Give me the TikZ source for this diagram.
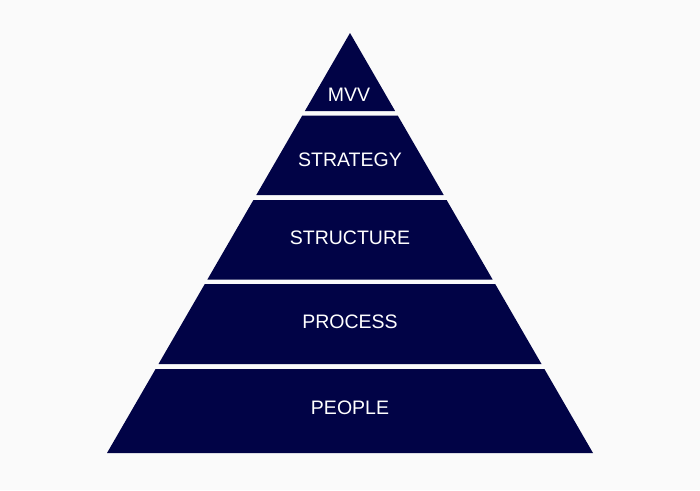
\documentclass[tikz,border=0pt]{standalone}
\usepackage{fontspec}
\setmainfont{Liberation Sans}
\definecolor{bg}{RGB}{250,250,250}
\definecolor{navy}{RGB}{1,3,70}
\begin{document}
\begin{tikzpicture}[x=1pt,y=-1pt,
  band/.style={fill=navy},
  lbl/.style={text=white,font=\fontsize{19.5}{22}\selectfont,anchor=base,inner sep=0pt}]
\fill[bg] (0,0) rectangle (700,490);
\useasboundingbox (0,0) rectangle (700,490);
% MVV
\fill[band] (350,33) -- (395.1,111) -- (304.9,111) -- cycle;
% STRATEGY
\fill[band] (302.3,115.5) -- (397.7,115.5) -- (443.7,195) -- (256.3,195) -- cycle;
% STRUCTURE
\fill[band] (253.4,200) -- (446.6,200) -- (492.6,279.5) -- (207.4,279.5) -- cycle;
% PROCESS
\fill[band] (204.8,284) -- (495.2,284) -- (541.5,364) -- (158.5,364) -- cycle;
% PEOPLE
\fill[band] (155.6,369) -- (544.4,369) -- (593,453) -- (107,453) -- cycle;
\node[lbl] (mvv) at (349,101.7) {MVV};
\node[lbl] (strategy) at (350,166.7) {STRATEGY};
\node[lbl] (structure) at (350,244.3) {STRUCTURE};
\node[lbl] (process) at (350,328.3) {PROCESS};
\node[lbl] (people) at (350,414) {PEOPLE};
\end{tikzpicture}
\end{document}
